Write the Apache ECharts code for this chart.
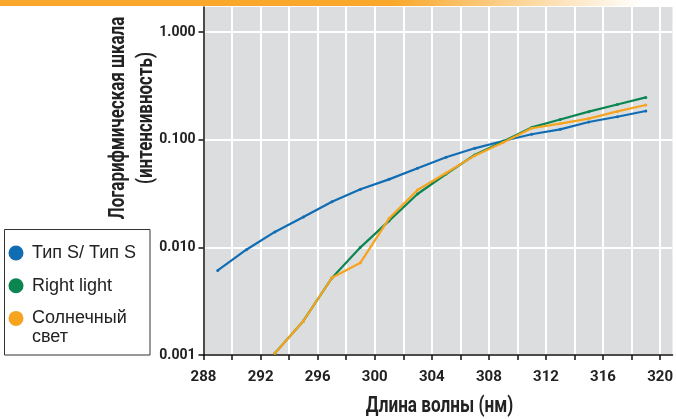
<!DOCTYPE html>
<html>
<head>
<meta charset="utf-8">
<script src="https://cdn.jsdelivr.net/npm/echarts@6/dist/echarts.min.js"></script>
<style>
  html, body { margin: 0; padding: 0; background: #fff; }
  #chart { width: 676px; height: 419px; }
</style>
</head>
<body>
<div id="chart"></div>
<script>
// Wavelength samples (nm)
const wavelengths = [289, 291, 293, 295, 297, 299, 301, 303, 305, 307, 309, 311, 313, 315, 317, 319];

// Relative intensity per source (log scale)
const typeS =      [0.0061, 0.0095, 0.0139, 0.0191, 0.0265, 0.0346, 0.0428, 0.0542, 0.0686, 0.0831, 0.0973, 0.1122, 0.1248, 0.1459, 0.1634, 0.1847];
const rightLight = [null, null, 0.00104, 0.00207, 0.0052, 0.0100, 0.0176, 0.0313, 0.0480, 0.0720, 0.0960, 0.1300, 0.1540, 0.1820, 0.2120, 0.2470];
const sunlight =   [null, null, 0.00104, 0.00207, 0.00522, 0.0072, 0.0185, 0.0341, 0.0490, 0.0710, 0.0940, 0.1276, 0.1410, 0.1570, 0.1830, 0.2100];

const seriesNames = ['Тип S/ Тип S', 'Right light', 'Солнечный\nсвет'];
const xTickValues = [288, 290, 292, 294, 296, 298, 300, 302, 304, 306, 308, 310, 312, 314, 316, 318, 320];
const xLabelValues = [288, 292, 296, 300, 304, 308, 312, 316, 320];
const yTickValues = [0.001, 0.01, 0.1, 1];

const xTitle = 'Длина волны (нм)';
const yTitle = 'Логарифмическая шкала\n(интенсивность)';

const colors = ['#116DB3', '#0C8650', '#F6A41F'];
const boldFace = 'Roboto, "Liberation Sans", sans-serif';
const plainFace = '"Liberation Sans", Arial, sans-serif';

function pairs(values) {
  return wavelengths.map((w, i) => [w, values[i]]).filter(p => p[1] != null);
}

// Each legend entry gets padding lines so the icon sits beside the first text line
function legendText(name) {
  return name.indexOf('\n') >= 0 ? '\n' + name : '\n' + name + '\n';
}

const chart = echarts.init(document.getElementById('chart'), null, { renderer: 'canvas' });

chart.setOption({
  animation: false,
  backgroundColor: '#fff',
  color: colors,
  grid: {
    left: 203.5, right: 0, top: 7, bottom: 64,
    show: true, backgroundColor: '#DCDDDF', borderWidth: 0
  },
  legend: {
    orient: 'vertical',
    left: 8.5, top: 224.5,
    padding: 0,
    itemGap: -24.3,
    itemWidth: 22, itemHeight: 15,
    icon: 'circle',
    formatter: legendText,
    textStyle: { fontFamily: plainFace, fontSize: 18, color: '#222', lineHeight: 19 },
    data: seriesNames,
    z: 10
  },
  xAxis: {
    type: 'value',
    min: 288, max: 320.87,
    interval: 2,
    axisLine: { show: true, onZero: false, lineStyle: { color: '#111', width: 1.5 } },
    axisTick: { show: true, length: 5, lineStyle: { color: '#111', width: 1.5 }, customValues: xTickValues },
    axisLabel: {
      customValues: xLabelValues,
      margin: 15,
      fontFamily: boldFace, fontWeight: 'bold', fontSize: 15, color: '#222'
    },
    splitLine: { show: true, lineStyle: { color: '#fff', width: 2 } }
  },
  yAxis: {
    type: 'log',
    min: 0.001, max: 1.707,
    logBase: 10,
    axisLine: { show: true, lineStyle: { color: '#111', width: 1.5 } },
    axisTick: { show: true, length: 5, lineStyle: { color: '#111', width: 1.5 }, customValues: yTickValues },
    axisLabel: {
      customValues: yTickValues,
      margin: 8,
      fontFamily: boldFace, fontWeight: 'bold', fontSize: 14, color: '#222',
      formatter: v => Number(v).toFixed(3)
    },
    splitLine: { show: true, lineStyle: { color: '#fff', width: 2 } }
  },
  graphic: [
    {
      type: 'rect',
      left: 0, top: 0,
      shape: { width: 676, height: 6 },
      style: {
        fill: new echarts.graphic.LinearGradient(0, 0, 1, 0, [
          { offset: 0, color: '#F9A82B' },
          { offset: 0.58, color: '#F9A82B' },
          { offset: 0.95, color: '#FFFFFF' }
        ])
      },
      silent: true
    },
    {
      // legend frame
      type: 'rect',
      shape: { x: 4.5, y: 229.5, width: 145.5, height: 125.5 },
      style: { fill: '#fff', stroke: '#333', lineWidth: 1 },
      z: 5,
      silent: true
    },
    {
      type: 'text',
      x: 132, y: 118,
      rotation: Math.PI / 2,
      scaleX: 0.77,
      style: {
        text: yTitle,
        font: 'bold 22px ' + boldFace,
        fill: '#222',
        textAlign: 'center',
        textVerticalAlign: 'middle',
        lineHeight: 28
      },
      silent: true
    },
    {
      type: 'text',
      x: 439.5, y: 406,
      scaleX: 0.78,
      style: {
        text: xTitle,
        font: 'bold 22px ' + boldFace,
        fill: '#222',
        textAlign: 'center',
        textVerticalAlign: 'middle'
      },
      silent: true
    }
  ],
  series: [
    {
      name: seriesNames[0], type: 'line', data: pairs(typeS),
      symbol: 'circle', symbolSize: 3, showSymbol: true,
      lineStyle: { width: 2.2, color: colors[0] }, itemStyle: { color: colors[0] }, z: 2
    },
    {
      name: seriesNames[1], type: 'line', data: pairs(rightLight),
      symbol: 'circle', symbolSize: 3, showSymbol: true,
      lineStyle: { width: 2.2, color: colors[1] }, itemStyle: { color: colors[1] }, z: 3
    },
    {
      name: seriesNames[2], type: 'line', data: pairs(sunlight),
      symbol: 'circle', symbolSize: 3, showSymbol: true,
      lineStyle: { width: 2.2, color: colors[2] }, itemStyle: { color: colors[2] }, z: 4
    }
  ]
});
</script>
</body>
</html>
